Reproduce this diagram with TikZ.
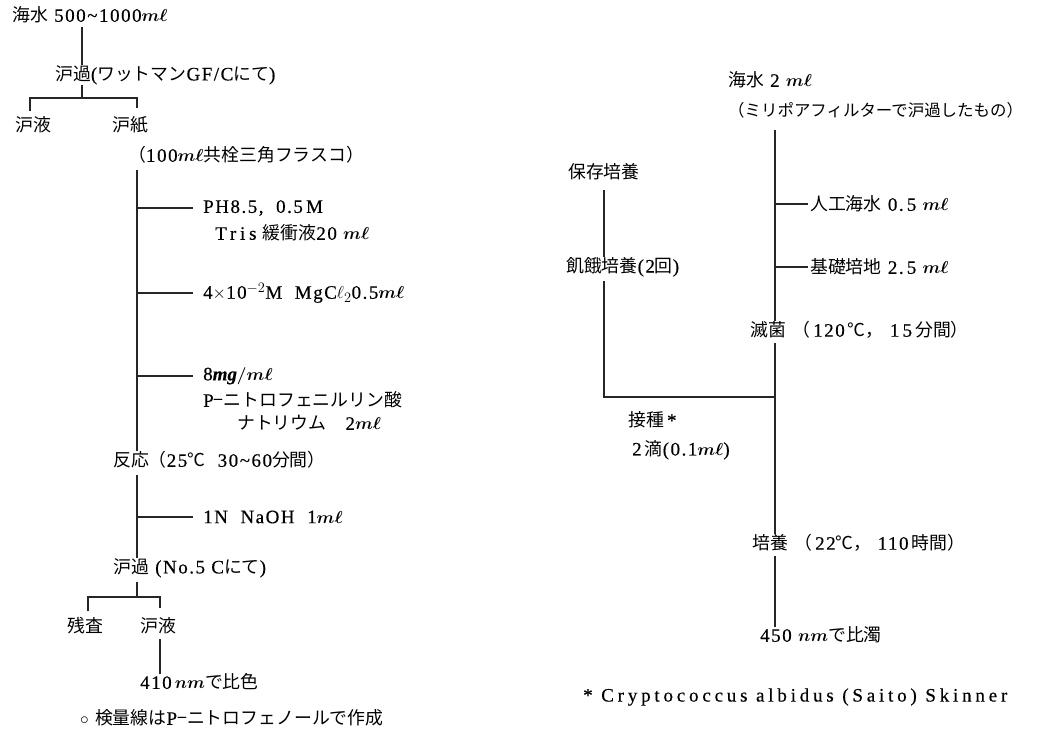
\documentclass[tikz,border=0pt]{standalone}
\usepackage{fontspec}
\setmainfont{Liberation Serif}[LetterSpace=8,FakeBold=0.4]
\newfontfamily\jp{Noto Sans CJK JP}[Scale=0.94]
\newfontfamily\wide{Liberation Serif}[LetterSpace=20,FakeBold=0.4]
\newcommand{\ml}{{\boldmath$m\ell$}}
\newcommand{\nmu}{{\boldmath$nm$}}
\tikzset{
  txt/.style={anchor=west, inner sep=0pt, font=\fontsize{19}{22}\selectfont},
  ln/.style={line width=1.3pt, draw=black!85}
}
\begin{document}
\begin{tikzpicture}[x=1pt,y=-1pt]
\useasboundingbox (0,0) rectangle (1056,748);
% ---------------- left flow ----------------
\node[txt] (t1) at (12,15) {{\jp 海水} 500\textasciitilde1000\ml};
\node[txt] (t2) at (55,75) {{\jp 沪過}({\jp ワットマン}GF/C{\jp にて})};
\node[txt] (t3) at (15,125) {\jp 沪液};
\node[txt] (t4) at (112,125) {\jp 沪紙};
\node[txt] (t5) at (128,155) {{\jp （}100\ml{\jp 共栓三角フラスコ）}};
\node[txt] (t6) at (203,208) {PH8.5, \ 0.5\,M};
\node[txt] (t7) at (215,233) {{\wide Tris} {\jp 緩衝液}20 \ml};
\node[txt] (t8) at (203,293) {4$\times$10$^{-2}$M \ MgC$\ell_2$0.5\ml};
\node[txt] (t9) at (203,376) {8{\boldmath$\mathit{mg}/m\ell$}};
\node[txt] (t10) at (203,400) {P{\jp −ニトロフェニルリン酸}};
\node[txt] (t11) at (237,423) {{\jp ナトリウム}\quad 2\ml};
\node[txt] (t12) at (113,460) {{\jp 反応（}25{\jp ℃}\ \ 30\textasciitilde60{\jp 分間）}};
\node[txt] (t13) at (203,517) {1N\ \ NaOH\ \ 1\ml};
\node[txt] (t14) at (113,568) {{\jp 沪過} (No.5 C{\jp にて})};
\node[txt] (t15) at (67,626) {\jp 残査};
\node[txt] (t16) at (140,626) {\jp 沪液};
\node[txt] (t17) at (140,682) {410\,\nmu{\jp で比色}};
\node[txt] (t18) at (80,718) {$\circ$ {\jp 検量線は}P{\jp −ニトロフェノールで作成}};
% junction coordinates
\coordinate (a1) at (82,98);
\coordinate (a2) at (30,98);
\coordinate (a3) at (137,98);
\coordinate (m1) at (137,170);
\coordinate (b1) at (193,208);
\coordinate (b2) at (193,293);
\coordinate (b3) at (193,376);
\coordinate (b4) at (193,517);
\coordinate (c1) at (137,597);
\coordinate (c2) at (88,597);
\coordinate (c3) at (160,597);
% connectors
\draw[ln] (t1.south -| a1) ++(0,4) -- (t2.north -| a1);
\draw[ln] (t2.south -| a1) -- (a1);
\draw[ln] (a2 |- t3.north) ++(0,-6) -- (a2) -- (a3) -- ++(0,10);
\draw[ln] (m1) -- (t12.north -| m1);
\draw[ln] (b1 -| m1) -- (b1);
\draw[ln] (b2 -| m1) -- (b2);
\draw[ln] (b3 -| m1) -- (b3);
\draw[ln] (t12.south -| m1) ++(0,6) -- (t14.north -| m1);
\draw[ln] (b4 -| m1) -- (b4);
\draw[ln] (t14.south -| c1) ++(0,4) -- (c1);
\draw[ln] (c2 |- t15.north) ++(0,-6) -- (c2) -- (c3) -- ++(0,11);
\draw[ln] (t16.south -| c3) ++(0,5) -- (t17.north -| c3);
% ---------------- right flow ----------------
\node[txt] (r1) at (728,80) {{\jp 海水} 2 \ml};
\node[txt] (r2) at (728,110) {\jp\fontsize{17.5}{20}\selectfont （ミリポアフィルターで沪過したもの）};
\node[txt] (r3) at (810,204) {{\jp 人工海水} 0.\,5 \ml};
\node[txt] (r4) at (810,267) {{\jp 基礎培地} 2.\,5 \ml};
\node[txt] (r5) at (750,330) {{\jp 滅菌}\ {\jp （}\,120\,{\jp ℃，}\ 1\,5\,{\jp 分間）}};
\node[txt] (r6) at (568,172) {\jp 保存培養};
\node[txt] (r7) at (566,267) {{\jp 飢餓培養}(2{\jp 回})};
\node[txt] (r8) at (628,420) {{\jp 接種}\,*};
\node[txt] (r9) at (632,450) {2\,{\jp 滴}(0.1\ml)};
\node[txt] (r10) at (752,543) {{\jp 培養}\ {\jp （}\,22{\jp ℃，}\ 110\,{\jp 時間）}};
\node[txt] (r11) at (760,635) {450 \nmu{\jp で比濁}};
\node[txt] (r12) at (583,697) {\wide * Cryptococcus albidus (Saito) Skinner};
\coordinate (m2) at (775,130);
\coordinate (d1) at (808,204);
\coordinate (d2) at (808,267);
\coordinate (e1) at (604,190);
\coordinate (e2) at (604,397);
\coordinate (e3) at (775,397);
\draw[ln] (m2) -- (r5.north -| m2);
\draw[ln] (d1 -| m2) -- (d1);
\draw[ln] (d2 -| m2) -- (d2);
\draw[ln] (r5.south -| m2) ++(0,4) -- (r10.north -| m2);
\draw[ln] (r10.south -| m2) ++(0,4) -- (r11.north -| m2);
\draw[ln] (e1) -- (r7.north -| e1);
\draw[ln] (r7.south -| e1) ++(0,4) -- (e2) -- (e3);
\end{tikzpicture}
\end{document}
